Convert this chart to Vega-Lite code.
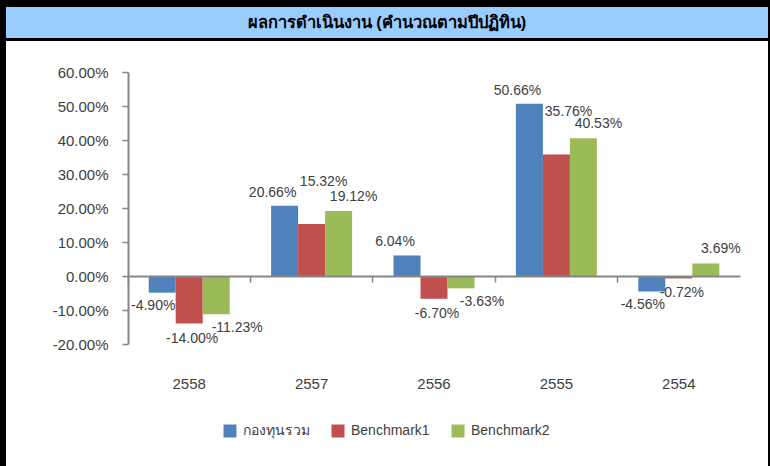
{
  "$schema": "https://vega.github.io/schema/vega-lite/v6.json",
  "background": "black",
  "padding": {"left": 6, "right": 2, "top": 7, "bottom": 0},
  "spacing": 3,
  "bounds": "flush",
  "config": {"concat": {"spacing": 3}},
  "vconcat": [
    {
      "width": 762,
      "height": 31,
      "view": {"fill": "#99CCFF", "stroke": null},
      "data": {"values": [{"title": "ผลการดำเนินงาน (คำนวณตามปีปฏิทิน)"}]},
      "mark": {"type": "text", "fontSize": 16.5, "fontWeight": "bold", "color": "black", "font": "Liberation Sans, sans-serif", "baseline": "middle"},
      "encoding": {"text": {"field": "title"}}
    },
    {
      "width": 762,
      "height": 425,
      "view": {"fill": "white", "stroke": null},
      "data": {
        "values": [
          {"year": "2558", "series": "กองทุนรวม", "value": -0.049},
          {"year": "2558", "series": "Benchmark1", "value": -0.14},
          {"year": "2558", "series": "Benchmark2", "value": -0.1123},
          {"year": "2557", "series": "กองทุนรวม", "value": 0.2066},
          {"year": "2557", "series": "Benchmark1", "value": 0.1532},
          {"year": "2557", "series": "Benchmark2", "value": 0.1912},
          {"year": "2556", "series": "กองทุนรวม", "value": 0.0604},
          {"year": "2556", "series": "Benchmark1", "value": -0.067},
          {"year": "2556", "series": "Benchmark2", "value": -0.0363},
          {"year": "2555", "series": "กองทุนรวม", "value": 0.5066},
          {"year": "2555", "series": "Benchmark1", "value": 0.3576},
          {"year": "2555", "series": "Benchmark2", "value": 0.4053},
          {"year": "2554", "series": "กองทุนรวม", "value": -0.0456},
          {"year": "2554", "series": "Benchmark1", "value": -0.0072},
          {"year": "2554", "series": "Benchmark2", "value": 0.0369}
        ]
      },
      "transform": [
        {"calculate": "replace(format(datum.value, '.2%'), '\u2212', '-')", "as": "label"}
      ],
      "encoding": {
        "x": {
          "field": "year", "type": "nominal",
          "sort": ["2558", "2557", "2556", "2555", "2554"],
          "scale": {"range": [122, 734], "paddingInner": 0, "paddingOuter": 0},
          "axis": {
            "orient": "bottom", "offset": -190, "title": null, "zindex": 1,
            "bandPosition": 0, "tickSize": 6, "tickWidth": 1.5, "tickColor": "#868686",
            "domainColor": "#868686", "domainWidth": 2,
            "labelPadding": 94, "labelFontSize": 15, "labelColor": "#404040",
            "labelFont": "Liberation Sans", "labelAngle": 0
          }
        },
        "xOffset": {
          "field": "series", "type": "nominal",
          "sort": ["กองทุนรวม", "Benchmark1", "Benchmark2"],
          "scale": {"paddingInner": 0, "paddingOuter": 0.767}
        },
        "y": {
          "field": "value", "type": "quantitative",
          "scale": {"domain": [-0.2, 0.6], "range": [303, 31], "nice": false, "zero": false},
          "axis": {
            "orient": "left", "offset": -122, "title": null, "grid": false,
            "values": [-0.2, -0.1, 0, 0.1, 0.2, 0.3, 0.4, 0.5, 0.6],
            "format": ".2%", "labelExpr": "replace(datum.label, '\u2212', '-')",
            "tickSize": 6, "tickWidth": 1.5, "tickColor": "#868686",
            "domainColor": "#868686", "domainWidth": 2,
            "labelPadding": 14, "labelFontSize": 15, "labelColor": "#404040",
            "labelFont": "Liberation Sans"
          }
        }
      },
      "layer": [
        {
          "mark": {"type": "bar"},
          "encoding": {
            "color": {
              "field": "series", "type": "nominal",
              "scale": {"domain": ["กองทุนรวม", "Benchmark1", "Benchmark2"], "range": ["#4F81BD", "#C0504D", "#9BBB59"]},
              "legend": {
                "orient": "none", "legendX": 217, "legendY": 417, "direction": "horizontal",
                "title": null, "symbolType": "square", "symbolSize": 169, "symbolStrokeWidth": 0,
                "labelFontSize": 14, "labelColor": "#404040", "labelFont": "Liberation Sans, sans-serif",
                "labelOffset": 6, "columnPadding": 21, "padding": 0
              }
            }
          }
        },
        {
          "transform": [{"filter": "datum.value >= 0 && datum.series == 'กองทุนรวม'"}],
          "mark": {"type": "text", "dx": -12, "dy": -13, "baseline": "middle", "fontSize": 14, "color": "#404040", "font": "Liberation Sans"},
          "encoding": {"text": {"field": "label"}}
        },
        {
          "transform": [{"filter": "datum.value >= 0 && datum.series == 'Benchmark1'"}],
          "mark": {"type": "text", "dx": 12, "dy": -42, "baseline": "middle", "fontSize": 14, "color": "#404040", "font": "Liberation Sans"},
          "encoding": {"text": {"field": "label"}}
        },
        {
          "transform": [{"filter": "datum.value >= 0 && datum.series == 'Benchmark2'"}],
          "mark": {"type": "text", "dx": 15, "dy": -14, "baseline": "middle", "fontSize": 14, "color": "#404040", "font": "Liberation Sans"},
          "encoding": {"text": {"field": "label"}}
        },
        {
          "transform": [{"filter": "datum.value < 0 && datum.series == 'กองทุนรวม'"}],
          "mark": {"type": "text", "dx": -9, "dy": 13, "baseline": "middle", "fontSize": 14, "color": "#404040", "font": "Liberation Sans"},
          "encoding": {"text": {"field": "label"}}
        },
        {
          "transform": [{"filter": "datum.value < 0 && datum.series == 'Benchmark1'"}],
          "mark": {"type": "text", "dx": 3, "dy": 15, "baseline": "middle", "fontSize": 14, "color": "#404040", "font": "Liberation Sans"},
          "encoding": {"text": {"field": "label"}}
        },
        {
          "transform": [{"filter": "datum.value < 0 && datum.series == 'Benchmark2'"}],
          "mark": {"type": "text", "dx": 21, "dy": 14, "baseline": "middle", "fontSize": 14, "color": "#404040", "font": "Liberation Sans"},
          "encoding": {"text": {"field": "label"}}
        }
      ]
    }
  ]
}
